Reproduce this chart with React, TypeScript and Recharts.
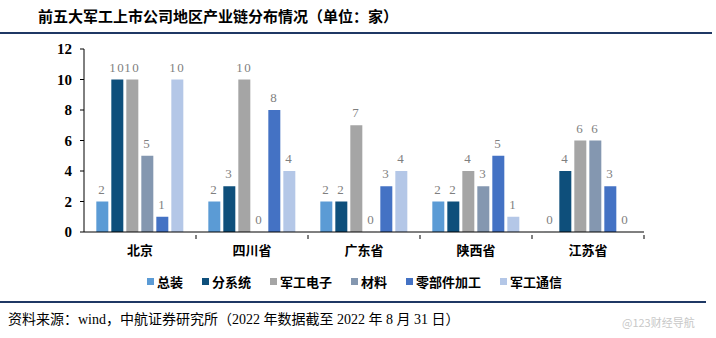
import React from "react";
import { BarChart, Bar, XAxis, YAxis, LabelList } from "recharts";

// 地区与系列
const regions = ["北京", "四川省", "广东省", "陕西省", "江苏省"];
const zongzhuang = [2, 2, 2, 2, 0];
const fenxitong = [10, 3, 2, 2, 4];
const dianzi = [10, 10, 7, 4, 6];
const cailiao = [5, 0, 0, 3, 6];
const lingbujian = [1, 8, 3, 5, 3];
const tongxin = [10, 4, 4, 1, 0];
const yTicks = [0, 2, 4, 6, 8, 10, 12];

const SERIES = [
  { key: "总装", values: zongzhuang, color: "#5b9bd5" },
  { key: "分系统", values: fenxitong, color: "#0e4f7b" },
  { key: "军工电子", values: dianzi, color: "#a5a5a5" },
  { key: "材料", values: cailiao, color: "#8497b0" },
  { key: "零部件加工", values: lingbujian, color: "#4472c4" },
  { key: "军工通信", values: tongxin, color: "#b4c7e7" },
];

const data = regions.map((r, i) => {
  const row: Record<string, string | number> = { region: r };
  SERIES.forEach((s) => (row[s.key] = s.values[i]));
  return row;
});

const CJK = '"Liberation Serif", "Noto Sans CJK SC", serif';

const XTick = (props: any) => {
  const { x, y, payload, index } = props;
  const half = payload?.offset || 56;
  return (
    <g>
      {index > 0 && <line x1={x - half} x2={x - half} y1={y - 5} y2={y - 1} stroke="#000" />}
      {index === regions.length - 1 && (
        <line x1={x + half} x2={x + half} y1={y - 5} y2={y - 1} stroke="#000" />
      )}
      <text x={x} y={y + 15} textAnchor="middle" fontSize={13} fontWeight="bold" fill="#000" fontFamily={CJK}>
        {payload.value}
      </text>
    </g>
  );
};

export default function App() {
  return (
    <div style={{ position: "absolute", left: 0, top: 0, width: 716, height: 338, background: "#fff", overflow: "hidden" }}>
      <div style={{ position: "absolute", left: 38, top: 5, fontSize: 15, fontWeight: "bold", fontFamily: CJK, color: "#000", whiteSpace: "nowrap" }}>
        前五大军工上市公司地区产业链分布情况（单位：家）
      </div>
      <div style={{ position: "absolute", left: 0, top: 32, width: 712, height: 1.5, background: "#1f3864" }} />

      <div style={{ position: "absolute", left: 0, top: 0 }}>
        <BarChart
          width={716}
          height={262}
          data={data}
          margin={{ top: 49, right: 72, left: 44, bottom: 0 }}
          barGap={3}
          barCategoryGap="11%"
        >
          <XAxis
            dataKey="region"
            axisLine={{ stroke: "#000" }}
            tickLine={false}
            tick={<XTick />}
            height={30}
            interval={0}
          />
          <YAxis
            domain={[0, 12]}
            ticks={yTicks}
            width={40}
            axisLine={{ stroke: "#000" }}
            tickLine={{ stroke: "#000" }}
            tickSize={4}
            tickMargin={8}
            tick={{ fill: "#000", fontSize: 15, fontWeight: "bold", fontFamily: '"Liberation Serif", serif' }}
          />
          {SERIES.map((s) => (
            <Bar key={s.key} dataKey={s.key} fill={s.color} minPointSize={0.05} isAnimationActive={false}>
              <LabelList
                dataKey={s.key}
                position="top"
                offset={8}
                fill="#7f7f7f"
                fontSize={13}
                fontFamily='"Liberation Serif", serif'
                style={{ letterSpacing: 1.5 }}
              />
            </Bar>
          ))}
        </BarChart>
      </div>

      <div
        style={{
          position: "absolute",
          left: 147,
          top: 272,
          display: "flex",
          gap: 19,
          fontSize: 13,
          fontWeight: "bold",
          fontFamily: CJK,
          color: "#000",
          whiteSpace: "nowrap",
        }}
      >
        {SERIES.map((s) => (
          <div key={s.key} style={{ display: "flex", alignItems: "center", gap: 3 }}>
            <span style={{ width: 7, height: 7, background: s.color, display: "inline-block" }} />
            <span>{s.key}</span>
          </div>
        ))}
      </div>

      <div style={{ position: "absolute", left: 0, top: 301, width: 706, height: 1.5, background: "#1f3864" }} />
      <div style={{ position: "absolute", left: 8, top: 308, fontSize: 14, fontFamily: CJK, color: "#000", whiteSpace: "nowrap" }}>
        资料来源：wind，中航证券研究所（2022 年数据截至 2022 年 8 月 31 日）
      </div>
      <div style={{ position: "absolute", left: 622, top: 314, fontSize: 11, fontFamily: '"Noto Sans CJK SC", sans-serif', color: "#c8c8c8", whiteSpace: "nowrap" }}>
        @123财经导航
      </div>
    </div>
  );
}
